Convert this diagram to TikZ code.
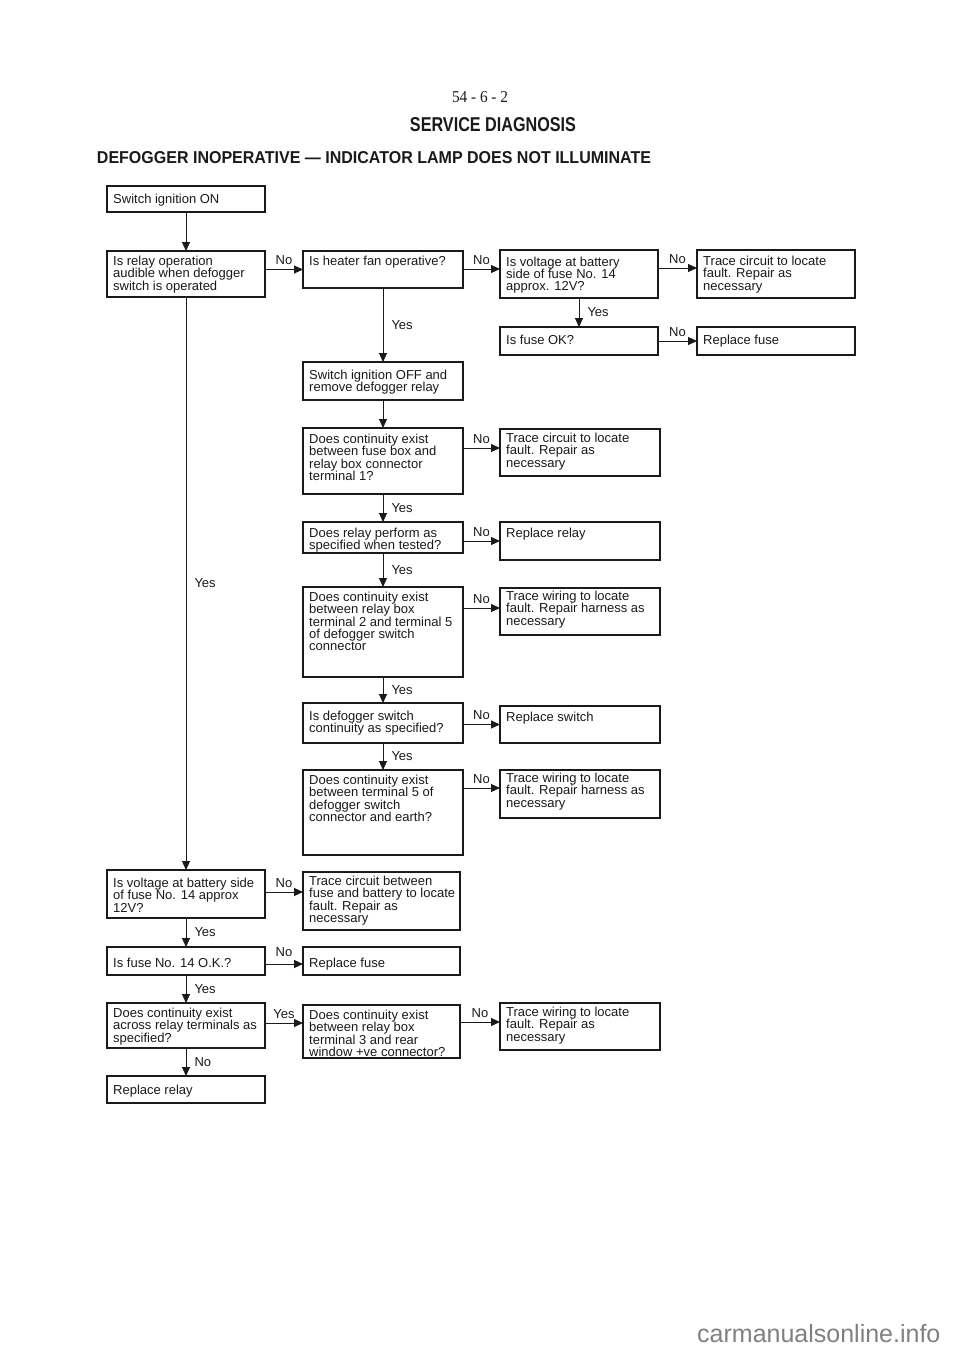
\documentclass[tikz,border=0pt]{standalone}
\usepackage{fontspec}
\usepackage{graphicx}
\setmainfont{Liberation Sans}
\newfontfamily\serifnum{Liberation Serif}
\usetikzlibrary{arrows.meta,fit}
\definecolor{ink}{HTML}{1A1A1A}
\newcommand\bfont{\fontsize{13}{12.3}\selectfont}
% box: name, x1, y1, x2, y2, text offset from top, text
\newcommand\flowbox[7]{%
  \coordinate (#1-a) at (#2,#3);
  \coordinate (#1-b) at (#4,#5);
  \node[frame, fit=(#1-a)(#1-b)] (#1) {};
  \node[btxt] (#1-t) at ([xshift=6pt,yshift=-#6pt]#1.north west) {#7};
}
% horizontal arrow: source, target, shift up of arrow from target centre, label
\newcommand\harr[4]{%
  \coordinate (#1#2) at ([yshift=#3pt]#2.west);
  \draw[arr] (#1.east |- #1#2) -- (#1#2) node[lbl, midway, above=4pt] (#1#2l) {#4};
}
% vertical arrow: source, target, label
\newcommand\varr[3]{%
  \draw[arr] (#1.south) -- (#2.north) node[lbl, midway, right=8pt] (#1#2l) {#3};
}
\begin{document}
\begin{tikzpicture}[x=1pt,y=-1pt,
  frame/.style={draw=ink, line width=1.2pt, inner sep=0pt, outer sep=0pt},
  btxt/.style={anchor=north west, align=left, inner sep=0pt, font=\bfont, text=ink},
  arr/.style={draw=ink, line width=1pt, -{Triangle[length=9pt,width=8pt]}},
  lbl/.style={font=\bfont, inner sep=0pt, text=ink}]
\fill[white] (0,0) rectangle (960,1357);
\useasboundingbox (0,0) rectangle (960,1357);

% header
\node[inner sep=0pt, text=ink] (pg) at (480,97) {\resizebox{56pt}{11pt}{\serifnum 54 - 6 - 2}};
\node[inner sep=0pt, text=ink] (title) at (493,125) {\resizebox{166pt}{14pt}{\bfseries SERVICE DIAGNOSIS}};
\node[inner sep=0pt, text=ink] (sub) at (374,158) {\resizebox{554pt}{12pt}{\bfseries DEFOGGER INOPERATIVE — INDICATOR LAMP DOES NOT ILLUMINATE}};

% boxes
\flowbox{b1}{107}{186}{265}{212}{8}{Switch ignition ON}
\flowbox{b2}{107}{251}{265}{297}{5}{Is relay operation\\audible when defogger\\switch is operated}
\flowbox{b3}{303}{251}{463}{288}{5}{Is heater fan operative?}
\flowbox{b4}{500}{250}{658}{298}{6.5}{Is voltage at battery\\side of fuse No. 14\\approx. 12V?}
\flowbox{b5}{697}{250}{855}{298}{6}{Trace circuit to locate\\fault. Repair as\\necessary}
\flowbox{b6}{500}{327}{658}{355}{8}{Is fuse OK?}
\flowbox{b7}{697}{327}{855}{355}{8}{Replace fuse}
\flowbox{b8}{303}{362}{463}{400}{8}{Switch ignition OFF and\\remove defogger relay}
\flowbox{b9}{303}{428}{463}{494}{6}{Does continuity exist\\between fuse box and\\relay box connector\\terminal 1?}
\flowbox{b10}{500}{429}{660}{476}{4}{Trace circuit to locate\\fault. Repair as\\necessary}
\flowbox{b11}{303}{522}{463}{553}{6}{Does relay perform as\\specified when tested?}
\flowbox{b12}{500}{522}{660}{560}{6}{Replace relay}
\flowbox{b13}{303}{587}{463}{677}{5}{Does continuity exist\\between relay box\\terminal 2 and terminal 5\\of defogger switch\\connector}
\flowbox{b14}{500}{588}{660}{635}{3}{Trace wiring to locate\\fault. Repair harness as\\necessary}
\flowbox{b15}{303}{703}{463}{743}{8}{Is defogger switch\\continuity as specified?}
\flowbox{b16}{500}{706}{660}{743}{6}{Replace switch}
\flowbox{b17}{303}{770}{463}{855}{5}{Does continuity exist\\between terminal 5 of\\defogger switch\\connector and earth?}
\flowbox{b18}{500}{770}{660}{818}{3}{Trace wiring to locate\\fault. Repair harness as\\necessary}
\flowbox{b19}{107}{870}{265}{918}{8}{Is voltage at battery side\\of fuse No. 14 approx\\12V?}
\flowbox{b20}{303}{872}{460}{930}{4}{Trace circuit between\\fuse and battery to locate\\fault. Repair as\\necessary}
\flowbox{b21}{107}{947}{265}{975}{10.5}{Is fuse No. 14 O.K.?}
\flowbox{b22}{303}{947}{460}{975}{10.5}{Replace fuse}
\flowbox{b23}{107}{1003}{265}{1048}{5}{Does continuity exist\\across relay terminals as\\specified?}
\flowbox{b24}{303}{1005}{460}{1058}{5}{Does continuity exist\\between relay box\\terminal 3 and rear\\window +ve connector?}
\flowbox{b25}{500}{1003}{660}{1050}{4}{Trace wiring to locate\\fault. Repair as\\necessary}
\flowbox{b26}{107}{1076}{265}{1103}{9}{Replace relay}

% vertical connectors
\draw[arr] (b1.south) -- (b2.north);
\varr{b2}{b19}{Yes}
\varr{b3}{b8}{Yes}
\varr{b4}{b6}{Yes}
\draw[arr] (b8.south) -- (b9.north);
\varr{b9}{b11}{Yes}
\varr{b11}{b13}{Yes}
\varr{b13}{b15}{Yes}
\varr{b15}{b17}{Yes}
\varr{b19}{b21}{Yes}
\varr{b21}{b23}{Yes}
\varr{b23}{b26}{No}

% horizontal connectors
\harr{b2}{b3}{0}{No}
\harr{b3}{b4}{5}{No}
\harr{b4}{b5}{6}{No}
\harr{b6}{b7}{0}{No}
\harr{b9}{b10}{4.5}{No}
\harr{b11}{b12}{0}{No}
\harr{b13}{b14}{3.5}{No}
\harr{b15}{b16}{0}{No}
\harr{b17}{b18}{6}{No}
\harr{b19}{b20}{9}{No}
\coordinate (b21b22) at ([yshift=-3pt]b22.west);
\draw[arr] (b21.east |- b21b22) -- (b21b22) node[lbl, midway, above=7pt] (b21b22l) {No};
\harr{b23}{b24}{8.5}{Yes}
\harr{b24}{b25}{4.5}{No}

% watermark
\node[text=black!50, font=\fontsize{25}{25}\selectfont, anchor=base west, inner sep=0pt] (wm) at (697,1342) {carmanualsonline.info};
\end{tikzpicture}
\end{document}
